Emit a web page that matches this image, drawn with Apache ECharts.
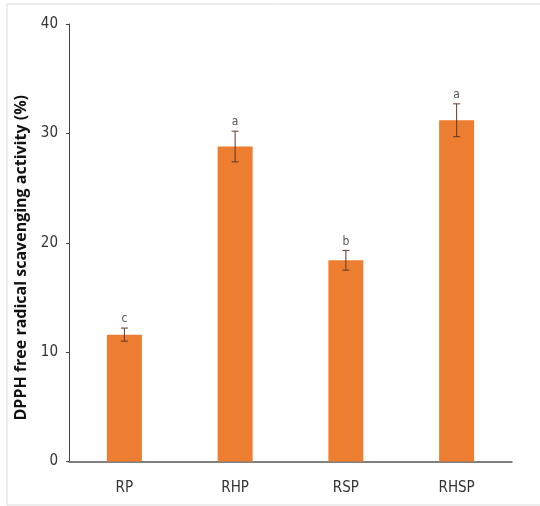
<!DOCTYPE html>
<html>
<head>
<meta charset="utf-8">
<script src="https://cdn.jsdelivr.net/npm/echarts@6/dist/echarts.min.js"></script>
<style>html,body{margin:0;padding:0;background:#fff}#c{width:540px;height:506px}</style>
</head>
<body>
<div id="c"></div>
<script>
var categories = ['RP', 'RHP', 'RSP', 'RHSP'];
var values = [11.6, 28.8, 18.4, 31.2];
var errors = [0.6, 1.4, 0.9, 1.5];
var letters = ['c', 'a', 'b', 'a'];
var yTicks = [0, 10, 20, 30, 40];

var chart = echarts.init(document.getElementById('c'));
var labelFont = '"DejaVu Sans Condensed", "Liberation Sans Narrow", "Liberation Sans", sans-serif';
chart.setOption({
  animation: false,
  graphic: [{
    type: 'polyline',
    shape: { points: [[540, 4], [7, 4], [7, 505], [540, 505]] },
    style: { stroke: '#dcdcdc', lineWidth: 1, fill: null },
    silent: true
  }],
  grid: { left: 69, right: 28, top: 24, bottom: 44.5, containLabel: false },
  xAxis: {
    type: 'category',
    data: categories,
    axisLine: { lineStyle: { color: '#555', width: 1.5 } },
    axisTick: { show: false },
    axisLabel: { color: '#333', fontSize: 15, fontFamily: labelFont, margin: 19 }
  },
  yAxis: {
    type: 'value',
    min: yTicks[0],
    max: yTicks[yTicks.length - 1],
    interval: 10,
    name: 'DPPH free radical scavenging activity (%)',
    nameLocation: 'middle',
    nameGap: 30,
    nameTextStyle: { color: '#111', fontSize: 16, fontWeight: 'bold', fontFamily: '"Open Sans", "DejaVu Sans", sans-serif', padding: [0, 30, 0, 0] },
    axisLine: { show: true, lineStyle: { color: '#444', width: 1 } },
    axisTick: { show: true, length: 3, lineStyle: { color: '#444' } },
    splitLine: { show: false },
    axisLabel: { color: '#333', fontSize: 15, fontFamily: labelFont, margin: 11 }
  },
  series: [{
    type: 'bar',
    data: values,
    barWidth: 35,
    itemStyle: { color: '#ED7D31' }
  }, {
    type: 'custom',
    data: values.map(function (v, i) { return [i, v - errors[i], v + errors[i], letters[i]]; }),
    encode: { x: 0, y: [1, 2] },
    z: 10,
    renderItem: function (params, api) {
      var lo = api.coord([api.value(0), api.value(1)]);
      var hi = api.coord([api.value(0), api.value(2)]);
      var x = lo[0], hw = 3.5;
      var st = { stroke: '#5a3a2a', lineWidth: 1 };
      return {
        type: 'group',
        children: [
          { type: 'line', shape: { x1: x, y1: lo[1], x2: x, y2: hi[1] }, style: st },
          { type: 'line', shape: { x1: x - hw, y1: lo[1], x2: x + hw, y2: lo[1] }, style: st },
          { type: 'line', shape: { x1: x - hw, y1: hi[1], x2: x + hw, y2: hi[1] }, style: st },
          { type: 'text', style: { text: letters[params.dataIndex], x: x, y: hi[1] - 3, textAlign: 'center', textVerticalAlign: 'bottom', fill: '#555', fontSize: 12, fontFamily: labelFont } }
        ]
      };
    }
  }]
});
</script>
</body>
</html>
